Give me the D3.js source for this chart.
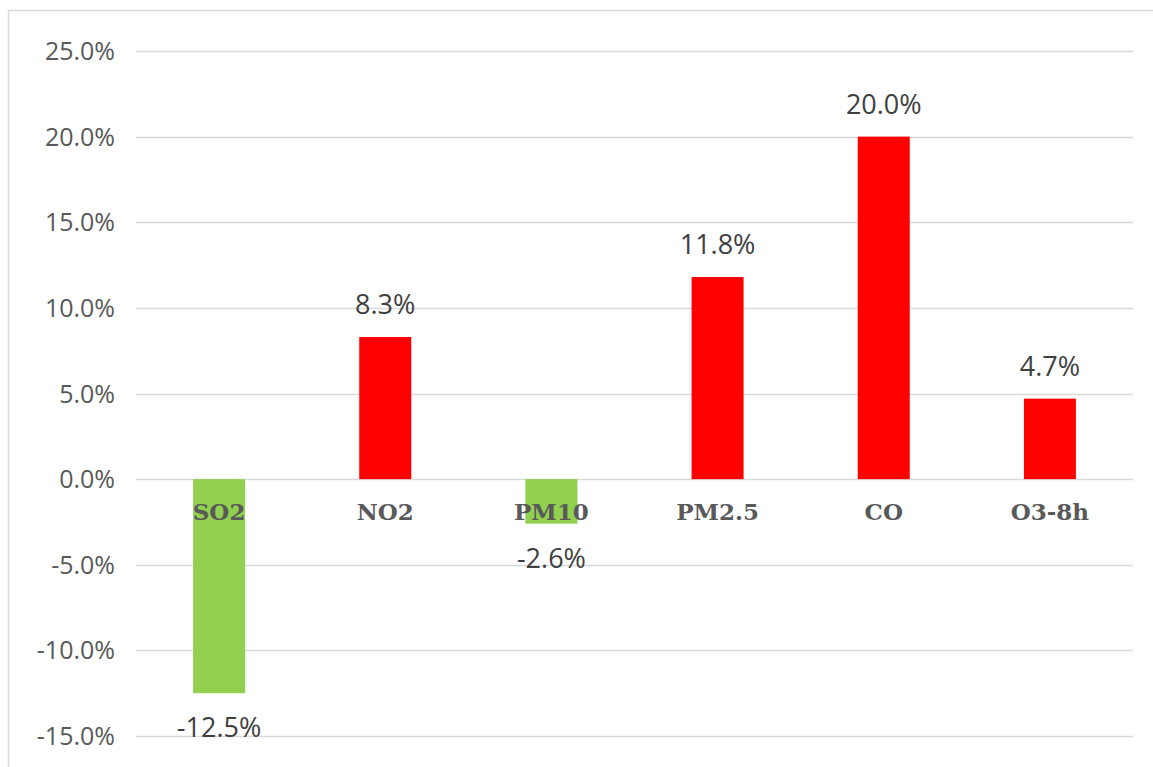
<!DOCTYPE html>
<html>
<head>
<meta charset="utf-8">
<script src="https://cdn.jsdelivr.net/npm/d3@7"></script>
<style>
  body { margin: 0; background: #fff; }
  svg { display: block; }
</style>
</head>
<body>
<svg id="canvas" width="1153" height="767"></svg>
<script>
const categories = ['SO2', 'NO2', 'PM10', 'PM2.5', 'CO', 'O3-8h'];
const changes = [-12.5, 8.3, -2.6, 11.8, 20.0, 4.7];
const yTicks = [25, 20, 15, 10, 5, 0, -5, -10, -15];

const svg = d3.select('#canvas');
const plotLeft = 136, plotRight = 1133, plotTop = 51, plotBottom = 736;

// chart frame (right and bottom edges fall outside the picture)
svg.append('rect')
  .attr('x', 8.5).attr('y', 10.5)
  .attr('width', 1160).attr('height', 780)
  .attr('fill', 'none')
  .attr('stroke', '#d9d9d9')
  .attr('stroke-width', 1.5);

const x = d3.scaleBand()
  .domain(categories)
  .range([plotLeft, plotRight]);

const y = d3.scaleLinear()
  .domain([-15, 25])
  .range([plotBottom, plotTop]);

const barW = 52;

// gridlines
svg.append('g')
  .selectAll('line')
  .data(yTicks)
  .join('line')
  .attr('x1', plotLeft).attr('x2', plotRight)
  .attr('y1', d => Math.round(y(d)) + 0.5)
  .attr('y2', d => Math.round(y(d)) + 0.5)
  .attr('stroke', '#d9d9d9')
  .attr('stroke-width', 1.3);

// y tick labels
svg.append('g')
  .selectAll('text')
  .data(yTicks)
  .join('text')
  .attr('x', 115)
  .attr('y', d => y(d))
  .attr('dy', '0.36em')
  .attr('text-anchor', 'end')
  .attr('font-family', '"Open Sans", sans-serif')
  .attr('font-size', 25)
  .attr('fill', '#595959')
  .text(d => d.toFixed(1) + '%');

const data = categories.map((c, i) => ({ cat: c, v: changes[i] }));

// bars
svg.append('g')
  .selectAll('rect')
  .data(data)
  .join('rect')
  .attr('x', d => x(d.cat) + x.bandwidth() / 2 - barW / 2)
  .attr('width', barW)
  .attr('y', d => y(Math.max(0, d.v)))
  .attr('height', d => Math.abs(y(d.v) - y(0)))
  .attr('fill', d => d.v < 0 ? '#92d050' : '#ff0000');

// category labels sit just under the zero line
svg.append('g')
  .selectAll('text')
  .data(categories)
  .join('text')
  .attr('x', d => x(d) + x.bandwidth() / 2)
  .attr('y', y(0) + 41)
  .attr('text-anchor', 'middle')
  .attr('font-family', '"DejaVu Serif", serif')
  .attr('font-weight', 'bold')
  .attr('font-size', 23)
  .attr('fill', '#595959')
  .text(d => d);

// value labels
svg.append('g')
  .selectAll('text')
  .data(data)
  .join('text')
  .attr('x', d => x(d.cat) + x.bandwidth() / 2)
  .attr('y', d => d.v < 0 ? y(d.v) + 44 : y(d.v) - 23)
  .attr('text-anchor', 'middle')
  .attr('font-family', '"Open Sans", sans-serif')
  .attr('font-size', 27)
  .attr('fill', '#404040')
  .text(d => d.v.toFixed(1) + '%');
</script>
</body>
</html>
